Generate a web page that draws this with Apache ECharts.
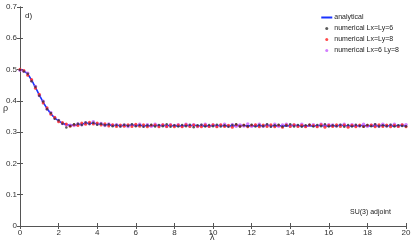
<!DOCTYPE html>
<html><head><meta charset="utf-8">
<script src="https://cdn.jsdelivr.net/npm/echarts@6/dist/echarts.min.js"></script>
<style>html,body{margin:0;padding:0;background:#fff}#c{width:415px;height:245px}</style>
</head><body><div id="c"></div>
<script>
const lam = [0,0.2,0.4,0.6,0.8,1,1.2,1.4,1.6,1.8,2,2.2,2.4,2.6,2.8,3,3.2,3.4,3.6,3.8,4,4.2,4.4,4.6,4.8,5,5.2,5.4,5.6,5.8,6,6.2,6.4,6.6,6.8,7,7.2,7.4,7.6,7.8,8,8.2,8.4,8.6,8.8,9,9.2,9.4,9.6,9.8,10,10.2,10.4,10.6,10.8,11,11.2,11.4,11.6,11.8,12,12.2,12.4,12.6,12.8,13,13.2,13.4,13.6,13.8,14,14.2,14.4,14.6,14.8,15,15.2,15.4,15.6,15.8,16,16.2,16.4,16.6,16.8,17,17.2,17.4,17.6,17.8,18,18.2,18.4,18.6,18.8,19,19.2,19.4,19.6,19.8,20];
const analytical = [0.500,0.496,0.485,0.466,0.443,0.419,0.396,0.376,0.359,0.346,0.336,
0.329,0.324,0.322,0.322,0.324,0.326,0.328,0.329,0.328,0.327,
0.325,0.324,0.323,0.322,0.321,0.321,0.321,0.322,0.322,0.322,
0.321,0.321,0.320,0.320,0.321,0.321,0.321,0.321,0.321,0.320,
0.320,0.320,0.321,0.321,0.321,0.321,0.320,0.320,0.320,0.321,
0.321,0.321,0.320,0.320,0.320,0.321,0.321,0.321,0.320,0.320,
0.320,0.320,0.321,0.321,0.321,0.320,0.320,0.320,0.320,0.321,
0.321,0.321,0.320,0.320,0.320,0.320,0.321,0.321,0.320,0.320,
0.320,0.321,0.321,0.321,0.320,0.320,0.320,0.321,0.321,0.320,
0.320,0.320,0.321,0.321,0.321,0.320,0.320,0.321,0.321,0.320];
const numL6 = [0.499,0.494,0.487,0.463,0.445,0.416,0.398,0.373,0.361,0.343,0.338,
0.327,0.315,0.320,0.325,0.327,0.323,0.331,0.326,0.330,0.324,
0.327,0.322,0.325,0.319,0.323,0.318,0.324,0.320,0.325,0.319,
0.323,0.317,0.322,0.324,0.318,0.323,0.319,0.325,0.317,0.322,
0.318,0.323,0.319,0.324,0.316,0.322,0.324,0.318,0.323,0.319,
0.324,0.318,0.322,0.317,0.323,0.325,0.318,0.322,0.319,0.324,
0.318,0.323,0.319,0.325,0.317,0.322,0.324,0.318,0.321,0.325,
0.318,0.323,0.317,0.322,0.324,0.318,0.323,0.319,0.325,0.318,
0.322,0.319,0.324,0.317,0.323,0.318,0.324,0.320,0.317,0.323,
0.319,0.325,0.318,0.322,0.319,0.324,0.318,0.322,0.320,0.319];
const numL8 = [0.501,0.497,0.482,0.468,0.440,0.421,0.393,0.378,0.357,0.348,0.333,
0.331,0.326,0.319,0.324,0.321,0.329,0.325,0.332,0.326,0.329,
0.323,0.327,0.320,0.324,0.318,0.323,0.319,0.324,0.318,0.325,
0.319,0.324,0.317,0.322,0.323,0.317,0.324,0.318,0.323,0.317,
0.323,0.317,0.324,0.318,0.323,0.319,0.317,0.323,0.318,0.324,
0.317,0.324,0.318,0.322,0.316,0.324,0.319,0.323,0.317,0.322,
0.324,0.317,0.323,0.318,0.324,0.317,0.322,0.316,0.323,0.318,
0.324,0.318,0.322,0.317,0.323,0.321,0.317,0.324,0.316,0.322,
0.318,0.324,0.318,0.323,0.316,0.322,0.317,0.323,0.318,0.322,
0.323,0.317,0.324,0.318,0.323,0.317,0.322,0.318,0.324,0.317];
const numL6L8 = [0.498,0.495,0.488,0.464,0.446,0.417,0.399,0.374,0.362,0.345,0.337,
0.328,0.323,0.322,0.321,0.326,0.324,0.330,0.327,0.333,0.326,
0.328,0.321,0.326,0.322,0.324,0.320,0.323,0.318,0.323,0.321,
0.325,0.320,0.324,0.319,0.325,0.320,0.323,0.318,0.324,0.321,
0.324,0.320,0.325,0.320,0.324,0.318,0.322,0.325,0.319,0.323,
0.319,0.322,0.325,0.320,0.324,0.319,0.323,0.320,0.326,0.319,
0.322,0.325,0.319,0.323,0.320,0.325,0.319,0.323,0.325,0.320,
0.323,0.320,0.325,0.319,0.322,0.324,0.319,0.325,0.321,0.324,
0.323,0.320,0.322,0.325,0.319,0.324,0.321,0.320,0.325,0.319,
0.322,0.324,0.319,0.325,0.320,0.322,0.325,0.319,0.323,0.324];
const xTicks = [0,2,4,6,8,10,12,14,16,18,20];
const yTicks = [0,0.1,0.2,0.3,0.4,0.5,0.6,0.7];

const pair = (ys) => lam.map((x, i) => [x, ys[i]]);
const F = 'Liberation Sans, Arial, sans-serif';
const axCol = '#555';
const chart = echarts.init(document.getElementById('c'));
const baseX = {
  type: 'value', min: xTicks[0], max: xTicks[xTicks.length-1], interval: 2,
  axisLine: {show: true, lineStyle: {color: axCol, width: 1}},
  axisTick: {show: true, inside: true, length: 3, lineStyle: {color: axCol}},
  splitLine: {show: false}
};
const baseY = {
  type: 'value', min: yTicks[0], max: yTicks[yTicks.length-1], interval: 0.1,
  axisLine: {show: true, lineStyle: {color: axCol, width: 1}},
  axisTick: {show: true, inside: true, length: 3, lineStyle: {color: axCol}},
  splitLine: {show: false}
};
chart.setOption({
  animation: false,
  grid: {left: 20, right: 9, top: 7, bottom: 19, containLabel: false, outerBoundsMode: 'none'},
  xAxis: [
    Object.assign({}, baseX, {position: 'bottom',
      axisLabel: {fontSize: 8, color: '#333', fontFamily: F, margin: 3}}),
    Object.assign({}, baseX, {position: 'top', axisLabel: {show: false}})
  ],
  yAxis: [
    Object.assign({}, baseY, {position: 'left',
      axisLabel: {fontSize: 8, color: '#333', fontFamily: F, margin: 3}}),
    Object.assign({}, baseY, {position: 'right', axisLabel: {show: false}})
  ],
  legend: {
    orient: 'vertical', right: 11, top: 9, itemWidth: 11, itemHeight: 3, itemGap: 4,
    textStyle: {fontSize: 7, color: '#222', fontFamily: F, padding: [0,0,0,-3]},
    data: [
      {name: 'analytical', itemStyle: {opacity: 0}},
      {name: 'numerical Lx=Ly=6', icon: 'circle'},
      {name: 'numerical Lx=Ly=8', icon: 'circle'},
      {name: 'numerical Lx=6 Ly=8', icon: 'circle'}
    ]
  },
  graphic: [
    {type: 'text', left: 25, top: 12, style: {text: 'd)', fontSize: 8, fill: '#222', fontFamily: F}},
    {type: 'text', left: 3, top: 104, style: {text: 'ρ', fontSize: 9, fill: '#333', fontFamily: F}},
    {type: 'text', left: 210, top: 233, style: {text: 'λ', fontSize: 9, fill: '#333', fontFamily: F}},
    {type: 'text', left: 350, top: 209, style: {text: 'SU(3) adjoint', fontSize: 7, fill: '#222', fontFamily: F}}
  ],
  series: [
    {name: 'analytical', type: 'line', data: pair(analytical), showSymbol: false, symbol: 'none',
     smooth: true, lineStyle: {color: '#1a33ff', width: 1.6}, itemStyle: {color: '#1a33ff'}, z: 1},
    {name: 'numerical Lx=6 Ly=8', type: 'scatter', data: pair(numL6L8), symbol: 'circle', symbolSize: 3.5,
     itemStyle: {color: '#c65cff', opacity: 0.8}, z: 2},
    {name: 'numerical Lx=Ly=8', type: 'scatter', data: pair(numL8), symbol: 'circle', symbolSize: 3,
     itemStyle: {color: '#ff2a2a', opacity: 0.85}, z: 3},
    {name: 'numerical Lx=Ly=6', type: 'scatter', data: pair(numL6), symbol: 'circle', symbolSize: 2.5,
     itemStyle: {color: '#333'}, z: 4}
  ]
});
</script></body></html>
